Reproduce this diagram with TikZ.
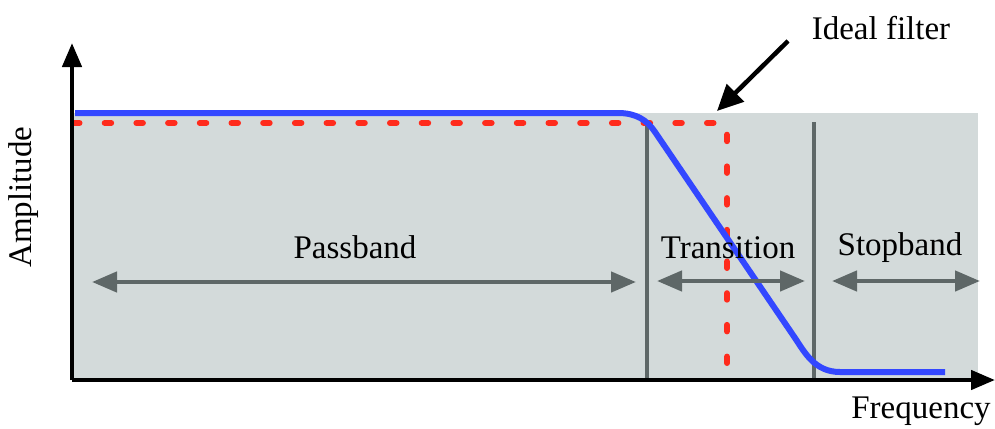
\documentclass[tikz,border=0pt]{standalone}
\usepackage{fontspec}
\setmainfont{Liberation Serif}
\usetikzlibrary{arrows.meta}
\definecolor{bandgray}{HTML}{D3DADA}
\definecolor{linegray}{HTML}{5E6767}
\definecolor{fblue}{HTML}{3347FF}
\definecolor{fred}{HTML}{FF2B1C}
\begin{document}
\begin{tikzpicture}[x=1pt,y=-1pt,
  lbl/.style={font=\fontsize{33}{38}\selectfont, inner sep=0pt},
  axis/.style={line width=4.5pt, -{Triangle[length=24pt,width=19pt]}},
  bandarrow/.style={draw=linegray, line width=4.5pt, {Triangle[length=25pt,width=20pt]}-{Triangle[length=25pt,width=20pt]}},
  divider/.style={draw=linegray, line width=3.5pt},
  response/.style={draw=fblue, line width=6pt, line join=round},
  ideal/.style={draw=fred, line width=6pt, line cap=round, dash pattern=on 6.5pt off 25.2pt},
  pointer/.style={line width=4.5pt, -{Triangle[length=26pt,width=24pt]}}]
\useasboundingbox (0,0) rectangle (995,428);
\fill[bandgray] (72,113) rectangle (978,380);
% dividers
\coordinate (d1t) at (647,122); \coordinate (d1b) at (647,380);
\coordinate (d2t) at (814,122); \coordinate (d2b) at (814,380);
\draw[divider] (d1t) -- (d1b);
\draw[divider] (d2t) -- (d2b);
% ideal filter
\coordinate (i0) at (73,123); \coordinate (ic) at (727,123); \coordinate (i1) at (727,363);
\draw[ideal] (i0) -- (ic) -- (i1);
% actual response
\coordinate (r0) at (75,113); \coordinate (r1) at (618,113);
\coordinate (r2) at (655,132); \coordinate (r3) at (795,338);
\coordinate (r4) at (840,372); \coordinate (r5) at (945,372);
\draw[response] (r0) -- (r1) .. controls (636,113) and (647,120) .. (r2) -- (r3) .. controls (805,353) and (815,372) .. (r4) -- (r5);
% axes
\coordinate (o) at (72,380); \coordinate (ytip) at (72,43); \coordinate (xtip) at (995,380);
\draw[axis] (o) -- (ytip);
\draw[axis] (o) -- (xtip);
% band arrows
\coordinate (pa) at (92,282); \coordinate (pb) at (636,282);
\coordinate (ta) at (657,281); \coordinate (tb) at (805,281);
\coordinate (sa) at (832,281); \coordinate (sb) at (980,281);
\draw[bandarrow] (pa) -- (pb);
\draw[bandarrow] (ta) -- (tb);
\draw[bandarrow] (sa) -- (sb);
% labels
\node[lbl] (pass) at (355,247) {Passband};
\node[lbl] (trans) at (728,248) {Transition};
\node[lbl] (stop) at (900,248) {Stopband};
\node[lbl] (idl) at (881,28) {Ideal filter};
\node[lbl, rotate=90] (amp) at (24,197) {Amplitude};
\node[lbl] (freq) at (921,411) {Frequency};
% pointer
\coordinate (pt) at (717,111);
\draw[pointer] (788,41) -- (pt);
\end{tikzpicture}
\end{document}
